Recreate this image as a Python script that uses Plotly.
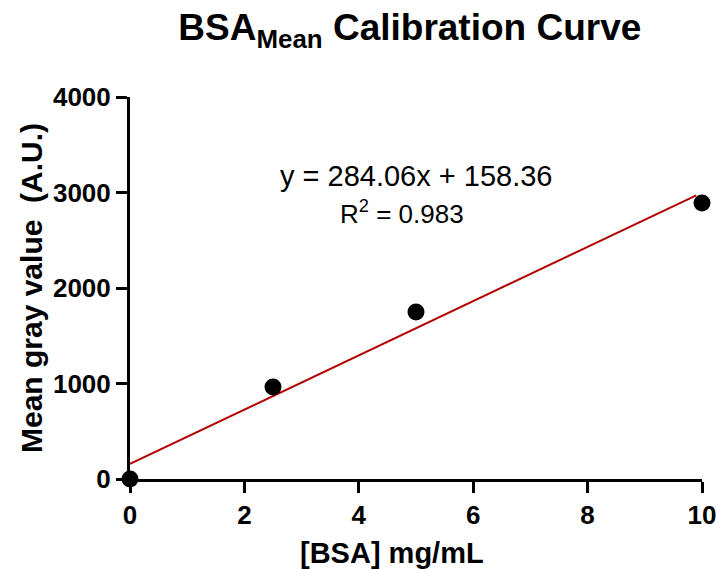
import plotly.graph_objects as go

# BSA standards and measured mean gray values
bsa_conc = [0, 2.5, 5, 10]
mean_gray = [0, 963, 1749, 2890]

# Linear fit parameters
slope = 284.06
intercept = 158.36
r_squared = 0.983
fit_x = [0, 9.9]
fit_y = [slope * x + intercept for x in fit_x]

x_ticks = [0, 2, 4, 6, 8, 10]
y_ticks = [0, 1000, 2000, 3000, 4000]

font_family = "Liberation Sans, Arial, sans-serif"

fig = go.Figure()
fig.add_trace(go.Scatter(
    x=fit_x, y=fit_y, mode="lines",
    line=dict(color="#b40000", width=2),
    cliponaxis=False, showlegend=False, hoverinfo="skip",
))
fig.add_trace(go.Scatter(
    x=bsa_conc, y=mean_gray, mode="markers",
    marker=dict(color="black", size=17),
    cliponaxis=False, showlegend=False,
))

# Regression equation and goodness of fit
fig.add_annotation(
    x=0.5, y=0.84, xref="paper", yref="paper", showarrow=False,
    text=f"y = {slope:.2f}x + {intercept:.2f}",
    font=dict(family=font_family, size=29, color="black"),
)
fig.add_annotation(
    x=0.476, y=0.745, xref="paper", yref="paper", showarrow=False,
    text=f"R<sup>2</sup> = {r_squared:.3f}",
    font=dict(family=font_family, size=26, color="black"),
)

# x-axis title, set slightly left of the plot centre
fig.add_annotation(
    x=0.458, y=-0.193, xref="paper", yref="paper", showarrow=False,
    xanchor="center", yanchor="middle",
    text="<b>[BSA] mg/mL</b>",
    font=dict(family=font_family, size=29, color="black"),
)

axis_common = dict(
    showgrid=False, zeroline=False, showline=True, automargin=False,
    linecolor="black", linewidth=3,
    ticks="outside", ticklen=11, tickwidth=3, tickcolor="black",
    tickfont=dict(family=font_family, size=26, color="black", weight="bold"),
)

fig.update_layout(
    width=719, height=569,
    margin=dict(l=130, r=17, t=97, b=90),
    paper_bgcolor="white", plot_bgcolor="white",
    title=dict(
        text="<b>BSA<sub>Mean</sub> Calibration Curve</b>",
        x=0.57, xanchor="center", y=0.952, yanchor="middle",
        font=dict(family=font_family, size=37, color="black"),
    ),
    xaxis=dict(range=[0, 10], tickvals=x_ticks, **axis_common),
    yaxis=dict(
        range=[0, 4000], tickvals=y_ticks,
        title=dict(text="<b>Mean gray value  (A.U.)</b>", standoff=2,
                   font=dict(family=font_family, size=30, color="black")),
        **axis_common,
    ),
)

fig.write_html("out.html")
